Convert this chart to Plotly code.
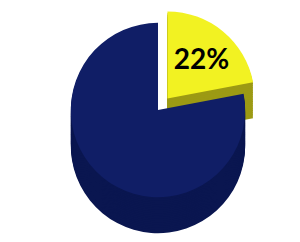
import plotly.graph_objects as go

# ---- data ----
categories = ["Share", "Remainder"]
values = [22, 78]
slice_labels = ["22%", ""]

# ---- style ----
top_colors = ["#f2f222", "#101e66"]
side_colors = ["#9c9a14", "#0a1650"]
pull = [0.17, 0]

W, H = 300, 242
dom_h = 204          # px height of each pie domain
top_center = 102     # px from top of the top face centre
depth = 36           # px thickness of the fake 3D wall
n_layers = 20

fig = go.Figure()

def domain_for(center_px):
    y0 = 1 - (center_px + dom_h / 2) / H
    y1 = 1 - (center_px - dom_h / 2) / H
    return dict(x=[0, 1], y=[max(0, y0), min(1, y1)])

# side wall layers (bottom first)
for i in range(n_layers, 0, -1):
    off = depth * i / n_layers
    fig.add_trace(go.Pie(
        labels=categories, values=values, sort=False, direction="clockwise",
        rotation=0, pull=pull, textinfo="none", hoverinfo="skip",
        marker=dict(colors=side_colors, line=dict(width=0)),
        domain=domain_for(top_center + off), showlegend=False,
    ))

# top face
fig.add_trace(go.Pie(
    labels=categories, values=values, sort=False, direction="clockwise",
    rotation=0, pull=pull, text=slice_labels, textinfo="text",
    textposition="inside", insidetextorientation="horizontal",
    textfont=dict(family="Lato, Open Sans, sans-serif", size=28, color="#000000", weight="bold"),
    marker=dict(colors=top_colors, line=dict(width=0)),
    domain=domain_for(top_center), showlegend=False,
))

fig.update_layout(
    width=W, height=H, margin=dict(l=0, r=0, t=0, b=0),
    paper_bgcolor="white", plot_bgcolor="white",
)

fig.write_html("out.html")
